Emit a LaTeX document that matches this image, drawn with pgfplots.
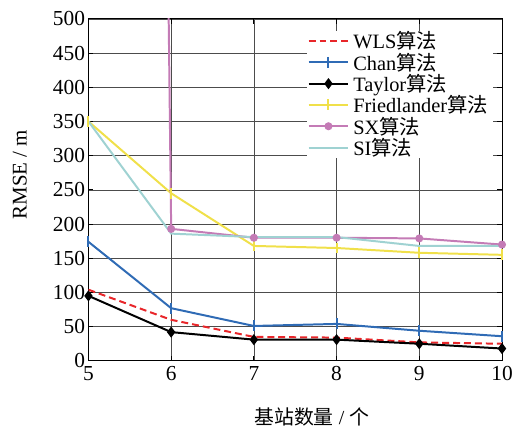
\documentclass[border=0pt]{standalone}
\usepackage{pgfplots}
\pgfplotsset{compat=1.18}
\usepackage{fontspec}
\setmainfont{Liberation Serif}
\newfontfamily\cjk{Noto Sans CJK SC}
\definecolor{wls}{HTML}{E8262A}
\definecolor{chan}{HTML}{2F6BB5}
\definecolor{fried}{HTML}{F0E04A}
\definecolor{sx}{HTML}{C47BB6}
\definecolor{si}{HTML}{9FD2D2}
\begin{document}
\begin{tikzpicture}
\begin{axis}[
  name=ax,
  scale only axis, width=416pt, height=344pt,
  xmin=5, xmax=10, ymin=0, ymax=500,
  xtick={5,6,7,8,9,10}, ytick={0,50,...,500},
  grid=major, major grid style={gray!60!black, line width=0.7pt},
  axis line style={black, line width=1pt},
  tick align=inside, major tick length=5pt,
  tick style={black, line width=0.8pt},
  ticklabel style={font=\fontsize{21.5}{22}\selectfont},
  xticklabel style={yshift=-2pt},
  /pgf/number format/assume math mode=true,
  xlabel={\fontsize{20}{22}\selectfont {\cjk 基站数量} / {\cjk 个}},
  ylabel={\fontsize{21}{22}\selectfont RMSE / m},
  xlabel style={at={(axis description cs:0.54,0)}, anchor=north, yshift=-44pt},
  ylabel style={at={(axis description cs:-0.166,0.545)}, anchor=center},
  clip=true,
  legend style={at={(axis description cs:0.527,0.966)}, anchor=north west, draw=none, fill=white,
    font=\fontsize{20.5}{20}\selectfont, row sep=2.6pt, inner sep=1pt,
    nodes={inner xsep=4pt, inner ysep=0pt}},
  legend cell align=left,
  legend image code/.code={\draw[mark repeat=2,mark phase=2,#1] plot coordinates {(0pt,0pt) (20pt,0pt) (40pt,0pt)};},
  every axis plot/.append style={line width=2pt},
]
\addplot[wls, dash pattern=on 7pt off 4pt] coordinates {(5,104) (6,60) (7,35) (8,34) (9,27) (10,25)};
\addlegendentry{WLS{\cjk 算法}}
\addplot[chan, mark=|, mark size=5.5pt] coordinates {(5,174) (6,77) (7,51) (8,54) (9,44) (10,36)};
\addlegendentry{Chan{\cjk 算法}}
\addplot[black, mark=diamond*, mark size=4pt] coordinates {(5,95) (6,42) (7,31) (8,31) (9,25) (10,18)};
\addlegendentry{Taylor{\cjk 算法}}
\addplot[fried, mark=|, mark size=5.5pt] coordinates {(5,350) (6,245) (7,168) (8,165) (9,158) (10,155)};
\addlegendentry{Friedlander{\cjk 算法}}
\addplot[sx, mark=*, mark size=3pt] coordinates {(5,10400) (6,193) (7,180) (8,180) (9,179) (10,170)};
\addlegendentry{SX{\cjk 算法}}
\addplot[si] coordinates {(5,350) (6,186) (7,181) (8,181) (9,168) (10,168)};
\addlegendentry{SI{\cjk 算法}}
\end{axis}
\path (ax.south west) ++(-89pt,-62pt) coordinate (bbA);
\path (ax.north east) ++(11pt,19pt) coordinate (bbB);
\path (bbA) rectangle (bbB);
\end{tikzpicture}
\end{document}
